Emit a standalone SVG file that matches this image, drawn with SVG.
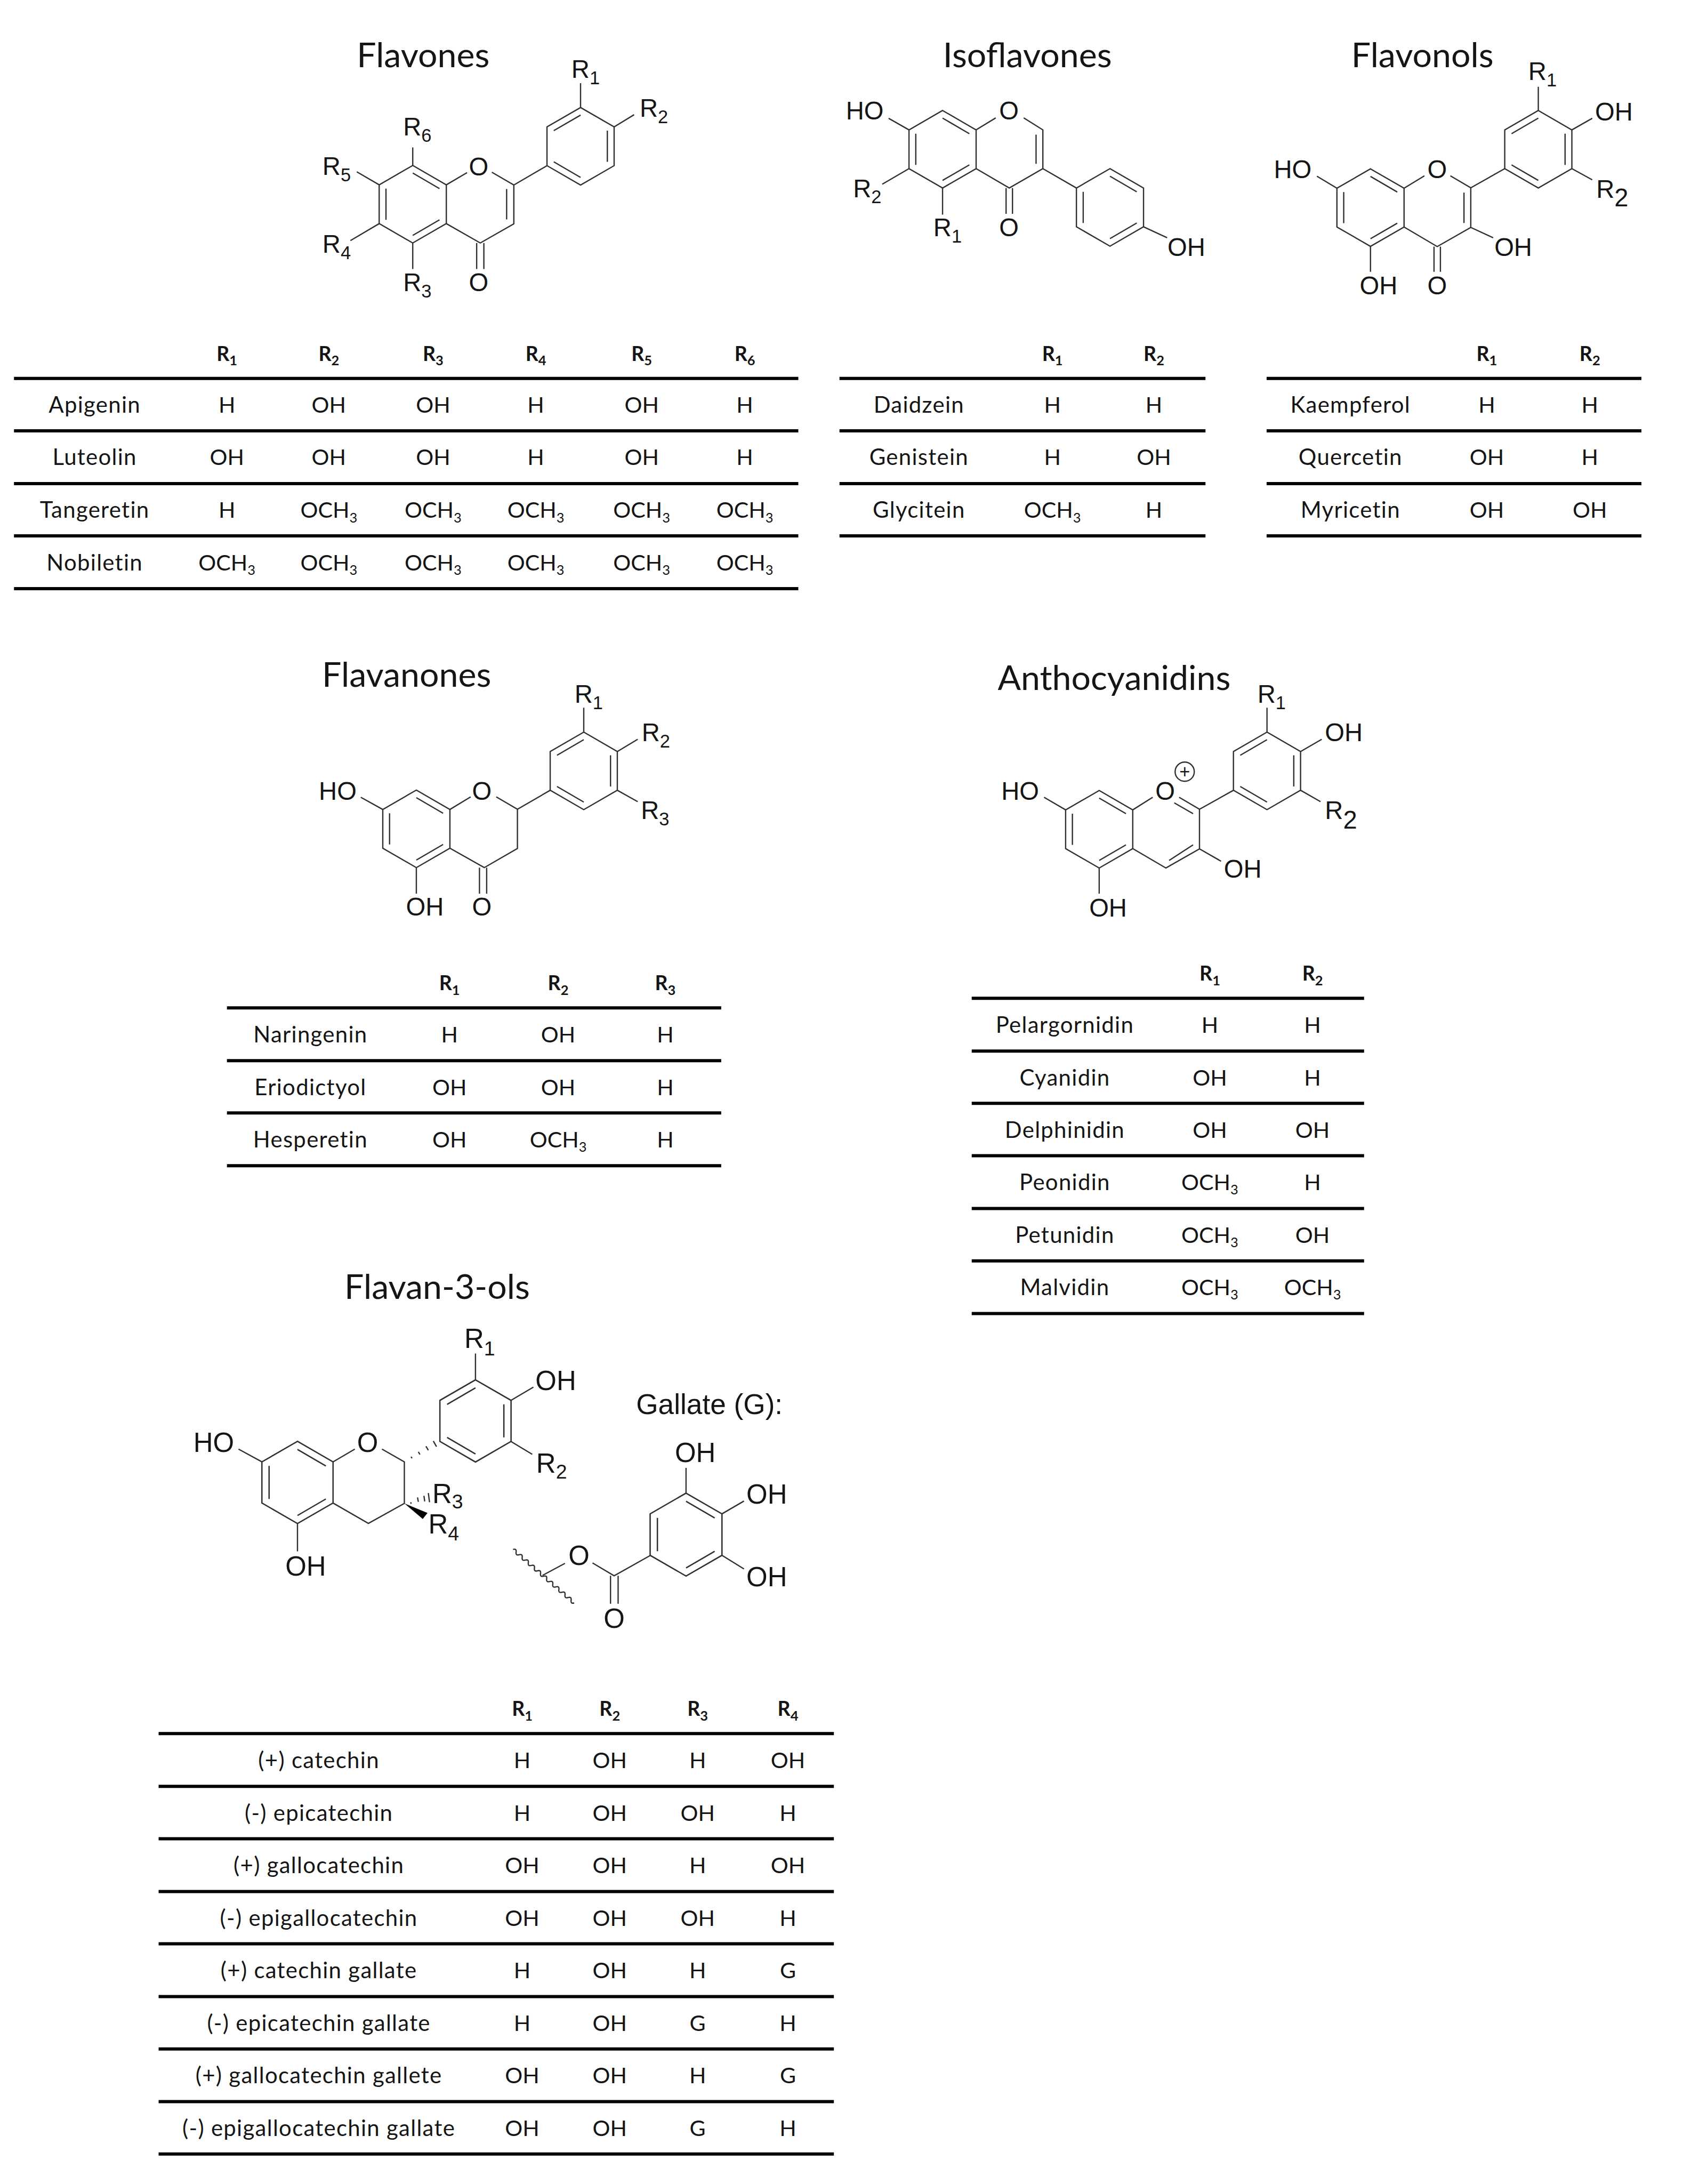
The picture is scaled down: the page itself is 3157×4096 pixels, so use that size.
<svg xmlns="http://www.w3.org/2000/svg" width="3157" height="4096" viewBox="0 0 3157 4096">
<style>
text{fill:#151515}
.title{font:86px Lato,"Liberation Sans",sans-serif}
.c{font:55px Lato,"Liberation Sans",sans-serif;text-anchor:middle}
.n{font:56px Lato,"Liberation Sans",sans-serif;text-anchor:middle;letter-spacing:1.7px}
.h{font:bold 50px Lato,"Liberation Sans",sans-serif;text-anchor:middle}
.s{font-size:34px}
.a{font:63px "Liberation Sans",Arial,sans-serif}
.m{text-anchor:middle}
.b{font-size:68px}
.gt{font:71px "Liberation Sans",Arial,sans-serif}
.sa{font-size:46px}
.sb{font-size:50px}
.bond{fill:none;stroke:#303030;stroke-width:3.2;stroke-linejoin:miter}
.rule{stroke:#000;stroke-width:8}
</style>
<defs>
<g id="ringA" class="bond"><path d="M0-97L84-48.500V48.500L0 97L-84 48.500V-48.500Z"/><path d="M0-78L67-39M-67-39V39M67 39L0 78"/></g>
<g id="ringB" class="bond"><path d="M0-97L84-48.500V48.500L0 97L-84 48.500V-48.500Z"/><path d="M0-78L-67-39M67-39V39M-67 39L0 78"/></g>
</defs>
<rect width="3157" height="4096" fill="#fff"/>
<g transform="scale(0.7495)">

<g id="flavones">
<text class="title" x="893" y="168">Flavones</text>
<use href="#ringA" x="1033" y="511"/><use href="#ringB" x="1453" y="366"/>
<path class="bond" d="M1117 462.500L1169 432M1231 431L1286 463V560L1202 608L1117 559.500M1268 473V549M1193 608V673M1211 608V673M1453 269V208M1537 317.500L1587 287M1033 414V369M949 462.500L893 430M949 559.500L877 602M1033 608V673M1286 463L1369 414.500"/>
<text class="a" x="1430" y="195">R<tspan class="sa" dy="16">1</tspan></text>
<text class="a" x="1601" y="292">R<tspan class="sa" dy="16">2</tspan></text>
<text class="a" x="1009" y="339">R<tspan class="sa" dy="16">6</tspan></text>
<text class="a" x="807" y="437">R<tspan class="sa" dy="16">5</tspan></text>
<text class="a" x="807" y="632">R<tspan class="sa" dy="16">4</tspan></text>
<text class="a" x="1009" y="728">R<tspan class="sa" dy="16">3</tspan></text>
<text class="a m" x="1198" y="439">O</text>
<text class="a m" x="1198" y="728">O</text>
</g>

<g id="flavones-table">
<path class="rule" d="M35 947H1998M35 1078H1998M35 1210H1998M35 1341H1998M35 1473H1998"/>
<text class="h" x="568" y="903">R<tspan class="s" dy="11">1</tspan></text><text class="h" x="823" y="903">R<tspan class="s" dy="11">2</tspan></text><text class="h" x="1084" y="903">R<tspan class="s" dy="11">3</tspan></text><text class="h" x="1341" y="903">R<tspan class="s" dy="11">4</tspan></text><text class="h" x="1606" y="903">R<tspan class="s" dy="11">5</tspan></text><text class="h" x="1864" y="903">R<tspan class="s" dy="11">6</tspan></text>
<text class="n" x="237" y="1033">Apigenin</text><text class="c" x="568" y="1033">H</text><text class="c" x="823" y="1033">OH</text><text class="c" x="1084" y="1033">OH</text><text class="c" x="1341" y="1033">H</text><text class="c" x="1606" y="1033">OH</text><text class="c" x="1864" y="1033">H</text>
<text class="n" x="237" y="1164">Luteolin</text><text class="c" x="568" y="1164">OH</text><text class="c" x="823" y="1164">OH</text><text class="c" x="1084" y="1164">OH</text><text class="c" x="1341" y="1164">H</text><text class="c" x="1606" y="1164">OH</text><text class="c" x="1864" y="1164">H</text>
<text class="n" x="237" y="1296">Tangeretin</text><text class="c" x="568" y="1296">H</text><text class="c" x="823" y="1296">OCH<tspan class="s" dy="11">3</tspan></text><text class="c" x="1084" y="1296">OCH<tspan class="s" dy="11">3</tspan></text><text class="c" x="1341" y="1296">OCH<tspan class="s" dy="11">3</tspan></text><text class="c" x="1606" y="1296">OCH<tspan class="s" dy="11">3</tspan></text><text class="c" x="1864" y="1296">OCH<tspan class="s" dy="11">3</tspan></text>
<text class="n" x="237" y="1427">Nobiletin</text><text class="c" x="568" y="1427">OCH<tspan class="s" dy="11">3</tspan></text><text class="c" x="823" y="1427">OCH<tspan class="s" dy="11">3</tspan></text><text class="c" x="1084" y="1427">OCH<tspan class="s" dy="11">3</tspan></text><text class="c" x="1341" y="1427">OCH<tspan class="s" dy="11">3</tspan></text><text class="c" x="1606" y="1427">OCH<tspan class="s" dy="11">3</tspan></text><text class="c" x="1864" y="1427">OCH<tspan class="s" dy="11">3</tspan></text>
</g>

<g id="isoflavones">
<text class="title" x="2360" y="168">Isoflavones</text>
<use href="#ringA" x="2359" y="373.500"/><use href="#ringA" x="2778" y="519"/>
<path class="bond" d="M2443 325L2492 295M2562 295L2610 325V422L2526 470.500L2443 422M2593 337V410M2610 422L2694 470.500M2518 470.500V535M2534 470.500V535M2275 325L2224 296M2275 422L2208 461M2359 470.500V537M2862 567.500L2921 595"/>
<text class="a" x="2117" y="299">HO</text>
<text class="a m" x="2525" y="299">O</text>
<text class="a m" x="2525" y="591">O</text>
<text class="a" x="2336" y="591">R<tspan class="sa" dy="16">1</tspan></text>
<text class="a" x="2135" y="493">R<tspan class="sa" dy="16">2</tspan></text>
<text class="a" x="2922" y="640">OH</text>
</g>

<g id="isoflavones-table">
<path class="rule" d="M2101 947H3017M2101 1078H3017M2101 1210H3017M2101 1341H3017"/>
<text class="h" x="2634" y="903">R<tspan class="s" dy="11">1</tspan></text><text class="h" x="2888" y="903">R<tspan class="s" dy="11">2</tspan></text>
<text class="n" x="2300" y="1033">Daidzein</text><text class="c" x="2634" y="1033">H</text><text class="c" x="2888" y="1033">H</text>
<text class="n" x="2300" y="1164">Genistein</text><text class="c" x="2634" y="1164">H</text><text class="c" x="2888" y="1164">OH</text>
<text class="n" x="2300" y="1296">Glycitein</text><text class="c" x="2634" y="1296">OCH<tspan class="s" dy="11">3</tspan></text><text class="c" x="2888" y="1296">H</text>
</g>

<g id="flavonols">
<text class="title" x="3382" y="168">Flavonols</text>
<use href="#ringA" x="3430" y="519.500"/><use href="#ringB" x="3850" y="373.500"/>
<path class="bond" d="M3514 471L3565 440M3630 440L3681 470V569L3597 617L3514 568M3664 482V558M3589 617V680M3605 617V680M3681 470L3766 422M3850 276.500V217M3934 325L3985 296M3934 422L3985 450M3430 616.500V680M3681 569L3737 595M3346 471L3296 441"/>
<text class="a" x="3188" y="446">HO</text>
<text class="a m" x="3597" y="446">O</text>
<text class="a m" x="3597" y="736">O</text>
<text class="a" x="3403" y="736">OH</text>
<text class="a" x="3740" y="640">OH</text>
<text class="a" x="3992" y="301">OH</text>
<text class="a" x="3825" y="200">R<tspan class="sa" dy="16">1</tspan></text>
<text class="a" x="3995" y="495">R<tspan dy="22">2</tspan></text>
</g>

<g id="flavonols-table">
<path class="rule" d="M3170 947H4108M3170 1078H4108M3170 1210H4108M3170 1341H4108"/>
<text class="h" x="3721" y="903">R<tspan class="s" dy="11">1</tspan></text><text class="h" x="3979" y="903">R<tspan class="s" dy="11">2</tspan></text>
<text class="n" x="3380" y="1033">Kaempferol</text><text class="c" x="3721" y="1033">H</text><text class="c" x="3979" y="1033">H</text>
<text class="n" x="3380" y="1164">Quercetin</text><text class="c" x="3721" y="1164">OH</text><text class="c" x="3979" y="1164">H</text>
<text class="n" x="3380" y="1296">Myricetin</text><text class="c" x="3721" y="1296">OH</text><text class="c" x="3979" y="1296">OH</text>
</g>

<g id="flavanones">
<text class="title" x="806" y="1718">Flavanones</text>
<use href="#ringA" x="1042" y="2074"/><use href="#ringB" x="1461" y="1929"/>
<path class="bond" d="M1126 2025.500L1178 1994M1242 1994L1295 2025V2123L1212 2171L1126 2122.500M1200 2171V2236M1218 2171V2236M1295 2025L1377 1977.500M1461 1832V1771M1545 1880.500L1596 1850M1545 1977.500L1596 2006M1042 2171V2236M958 2025.500L903 1995"/>
<text class="a" x="798" y="2002">HO</text>
<text class="a m" x="1206" y="2002">O</text>
<text class="a m" x="1206" y="2291">O</text>
<text class="a" x="1016" y="2291">OH</text>
<text class="a" x="1438" y="1758">R<tspan class="sa" dy="16">1</tspan></text>
<text class="a" x="1606" y="1855">R<tspan class="sa" dy="16">2</tspan></text>
<text class="a" x="1604" y="2050">R<tspan class="sa" dy="16">3</tspan></text>
</g>

<g id="flavanones-table">
<path class="rule" d="M568 2522H1805M568 2654H1805M568 2785H1805M568 2917H1805"/>
<text class="h" x="1125" y="2478">R<tspan class="s" dy="11">1</tspan></text><text class="h" x="1397" y="2478">R<tspan class="s" dy="11">2</tspan></text><text class="h" x="1665" y="2478">R<tspan class="s" dy="11">3</tspan></text>
<text class="n" x="777" y="2608">Naringenin</text><text class="c" x="1125" y="2608">H</text><text class="c" x="1397" y="2608">OH</text><text class="c" x="1665" y="2608">H</text>
<text class="n" x="777" y="2740">Eriodictyol</text><text class="c" x="1125" y="2740">OH</text><text class="c" x="1397" y="2740">OH</text><text class="c" x="1665" y="2740">H</text>
<text class="n" x="777" y="2871">Hesperetin</text><text class="c" x="1125" y="2871">OH</text><text class="c" x="1397" y="2871">OCH<tspan class="s" dy="11">3</tspan></text><text class="c" x="1665" y="2871">H</text>
</g>

<g id="anthocyanidins">
<text class="title" x="2497" y="1726">Anthocyanidins</text>
<use href="#ringA" x="2751" y="2075"/><use href="#ringB" x="3171" y="1929"/>
<path class="bond" d="M2835 2026.500L2885 1995M2951 1995L3002 2025V2124L2918 2172L2835 2123.500M2939 2009L2986 2036M2926 2153L2986 2114M3002 2025L3087 1977.500M3171 1832V1771M3255 1880.500L3308 1850M3255 1977.500L3305 2006M2751 2172V2236M2667 2026.500L2613 1995M3002 2124L3056 2155"/>
<circle class="bond" cx="2965" cy="1931" r="24"/>
<text class="m" x="2965" y="1947" style="font:46px 'Liberation Sans',sans-serif">+</text>
<text class="a" x="2506" y="2002">HO</text>
<text class="a m" x="2916" y="2002">O</text>
<text class="a" x="2726" y="2293">OH</text>
<text class="a" x="3063" y="2196">OH</text>
<text class="a" x="3147" y="1758">R<tspan class="sa" dy="16">1</tspan></text>
<text class="a" x="3316" y="1855">OH</text>
<text class="a" x="3316" y="2050">R<tspan dy="24">2</tspan></text>
</g>

<g id="anthocyanidins-table">
<path class="rule" d="M2432 2498H3414M2432 2630H3414M2432 2761H3414M2432 2892H3414M2432 3024H3414M2432 3155H3414M2432 3287H3414"/>
<text class="h" x="3028" y="2454">R<tspan class="s" dy="11">1</tspan></text><text class="h" x="3285" y="2454">R<tspan class="s" dy="11">2</tspan></text>
<text class="n" x="2665" y="2584">Pelargornidin</text><text class="c" x="3028" y="2584">H</text><text class="c" x="3285" y="2584">H</text>
<text class="n" x="2665" y="2716">Cyanidin</text><text class="c" x="3028" y="2716">OH</text><text class="c" x="3285" y="2716">H</text>
<text class="n" x="2665" y="2847">Delphinidin</text><text class="c" x="3028" y="2847">OH</text><text class="c" x="3285" y="2847">OH</text>
<text class="n" x="2665" y="2978">Peonidin</text><text class="c" x="3028" y="2978">OCH<tspan class="s" dy="11">3</tspan></text><text class="c" x="3285" y="2978">H</text>
<text class="n" x="2665" y="3110">Petunidin</text><text class="c" x="3028" y="3110">OCH<tspan class="s" dy="11">3</tspan></text><text class="c" x="3285" y="3110">OH</text>
<text class="n" x="2665" y="3241">Malvidin</text><text class="c" x="3028" y="3241">OCH<tspan class="s" dy="11">3</tspan></text><text class="c" x="3285" y="3241">OCH<tspan class="s" dy="11">3</tspan></text>
</g>

<g id="flavan-3-ols">
<text class="title" x="862" y="3250">Flavan-3-ols</text>
<use href="#ringA" transform="translate(744.500 3709.500) scale(1.06)"/><use href="#ringB" transform="translate(1190 3555.500) scale(1.06)"/>
<path class="bond" d="M833.500 3658L888 3626M956 3626L1012 3658V3762L922 3812L833.500 3761M655.500 3658L597 3626M744.500 3812.300V3882M1190 3452.500V3387M1279 3504L1335 3471M1279 3607L1332 3639"/>
<path class="bond" d="M1029 3645L1031 3649M1047 3633L1051 3639.500M1066 3619L1072 3629M1084.500 3606L1092.500 3620M1028 3759L1029 3763M1045 3747L1047 3758M1061 3743L1063 3757M1072 3736L1075 3759"/>
<path d="M1012 3762L1070 3786L1058 3801Z" fill="#000"/>
<text class="a b" x="484" y="3633">HO</text>
<text class="a b m" x="920" y="3633">O</text>
<text class="a b" x="714" y="3942">OH</text>
<text class="a b" x="1340" y="3478">OH</text>
<text class="a b" x="1162" y="3373">R<tspan class="sb" dy="18">1</tspan></text>
<text class="a b" x="1342" y="3685">R<tspan class="sb" dy="15">2</tspan></text>
<text class="a b" x="1082" y="3761">R<tspan class="sb" dy="14">3</tspan></text>
<text class="a b" x="1072" y="3837">R<tspan class="sb" dy="18">4</tspan></text>
</g>

<g id="gallate">
<text class="gt" x="1592" y="3538">Gallate (G):</text>
<use href="#ringA" transform="translate(1717 3840) scale(1.07)"/>
<path class="bond" d="M1717 3736V3673M1807 3788L1862 3756M1807 3892L1862 3926M1628 3892L1537 3943L1483 3911M1414 3912L1358 3942M1528 3943V4013M1547 3943V4013"/>
<path class="bond" d="M1284 3877q9.100-2.700 7.650 6.700t7.650 6.700t7.650 6.700t7.650 6.700t7.650 6.700t7.650 6.700t7.650 6.700t7.650 6.700t7.650 6.700t7.650 6.700t7.650 6.700t7.650 6.700t7.650 6.700t7.650 6.700t7.650 6.700t7.650 6.700t7.650 6.700t7.650 6.700t7.650 6.700t7.650 6.700"/>
<text class="a b" x="1689" y="3659">OH</text>
<text class="a b" x="1868" y="3763">OH</text>
<text class="a b" x="1868" y="3969">OH</text>
<text class="a b m" x="1537" y="4073">O</text>
<text class="a b m" x="1449" y="3916">O</text>
</g>

<g id="flavan-table">
<path class="rule" d="M397 4338H2087M397 4470H2087M397 4601H2087M397 4733H2087M397 4864H2087M397 4996H2087M397 5127H2087M397 5259H2087M397 5390H2087"/>
<text class="h" x="1307" y="4294">R<tspan class="s" dy="11">1</tspan></text><text class="h" x="1526" y="4294">R<tspan class="s" dy="11">2</tspan></text><text class="h" x="1746" y="4294">R<tspan class="s" dy="11">3</tspan></text><text class="h" x="1972" y="4294">R<tspan class="s" dy="11">4</tspan></text>
<text class="n" x="798" y="4424">(+) catechin</text><text class="c" x="1307" y="4424">H</text><text class="c" x="1526" y="4424">OH</text><text class="c" x="1746" y="4424">H</text><text class="c" x="1972" y="4424">OH</text>
<text class="n" x="798" y="4556">(-) epicatechin</text><text class="c" x="1307" y="4556">H</text><text class="c" x="1526" y="4556">OH</text><text class="c" x="1746" y="4556">OH</text><text class="c" x="1972" y="4556">H</text>
<text class="n" x="798" y="4687">(+) gallocatechin</text><text class="c" x="1307" y="4687">OH</text><text class="c" x="1526" y="4687">OH</text><text class="c" x="1746" y="4687">H</text><text class="c" x="1972" y="4687">OH</text>
<text class="n" x="798" y="4819">(-) epigallocatechin</text><text class="c" x="1307" y="4819">OH</text><text class="c" x="1526" y="4819">OH</text><text class="c" x="1746" y="4819">OH</text><text class="c" x="1972" y="4819">H</text>
<text class="n" x="798" y="4950">(+) catechin gallate</text><text class="c" x="1307" y="4950">H</text><text class="c" x="1526" y="4950">OH</text><text class="c" x="1746" y="4950">H</text><text class="c" x="1972" y="4950">G</text>
<text class="n" x="798" y="5082">(-) epicatechin gallate</text><text class="c" x="1307" y="5082">H</text><text class="c" x="1526" y="5082">OH</text><text class="c" x="1746" y="5082">G</text><text class="c" x="1972" y="5082">H</text>
<text class="n" x="798" y="5213">(+) gallocatechin gallete</text><text class="c" x="1307" y="5213">OH</text><text class="c" x="1526" y="5213">OH</text><text class="c" x="1746" y="5213">H</text><text class="c" x="1972" y="5213">G</text>
<text class="n" x="798" y="5345">(-) epigallocatechin gallate</text><text class="c" x="1307" y="5345">OH</text><text class="c" x="1526" y="5345">OH</text><text class="c" x="1746" y="5345">G</text><text class="c" x="1972" y="5345">H</text>
</g>
</g>
</svg>
